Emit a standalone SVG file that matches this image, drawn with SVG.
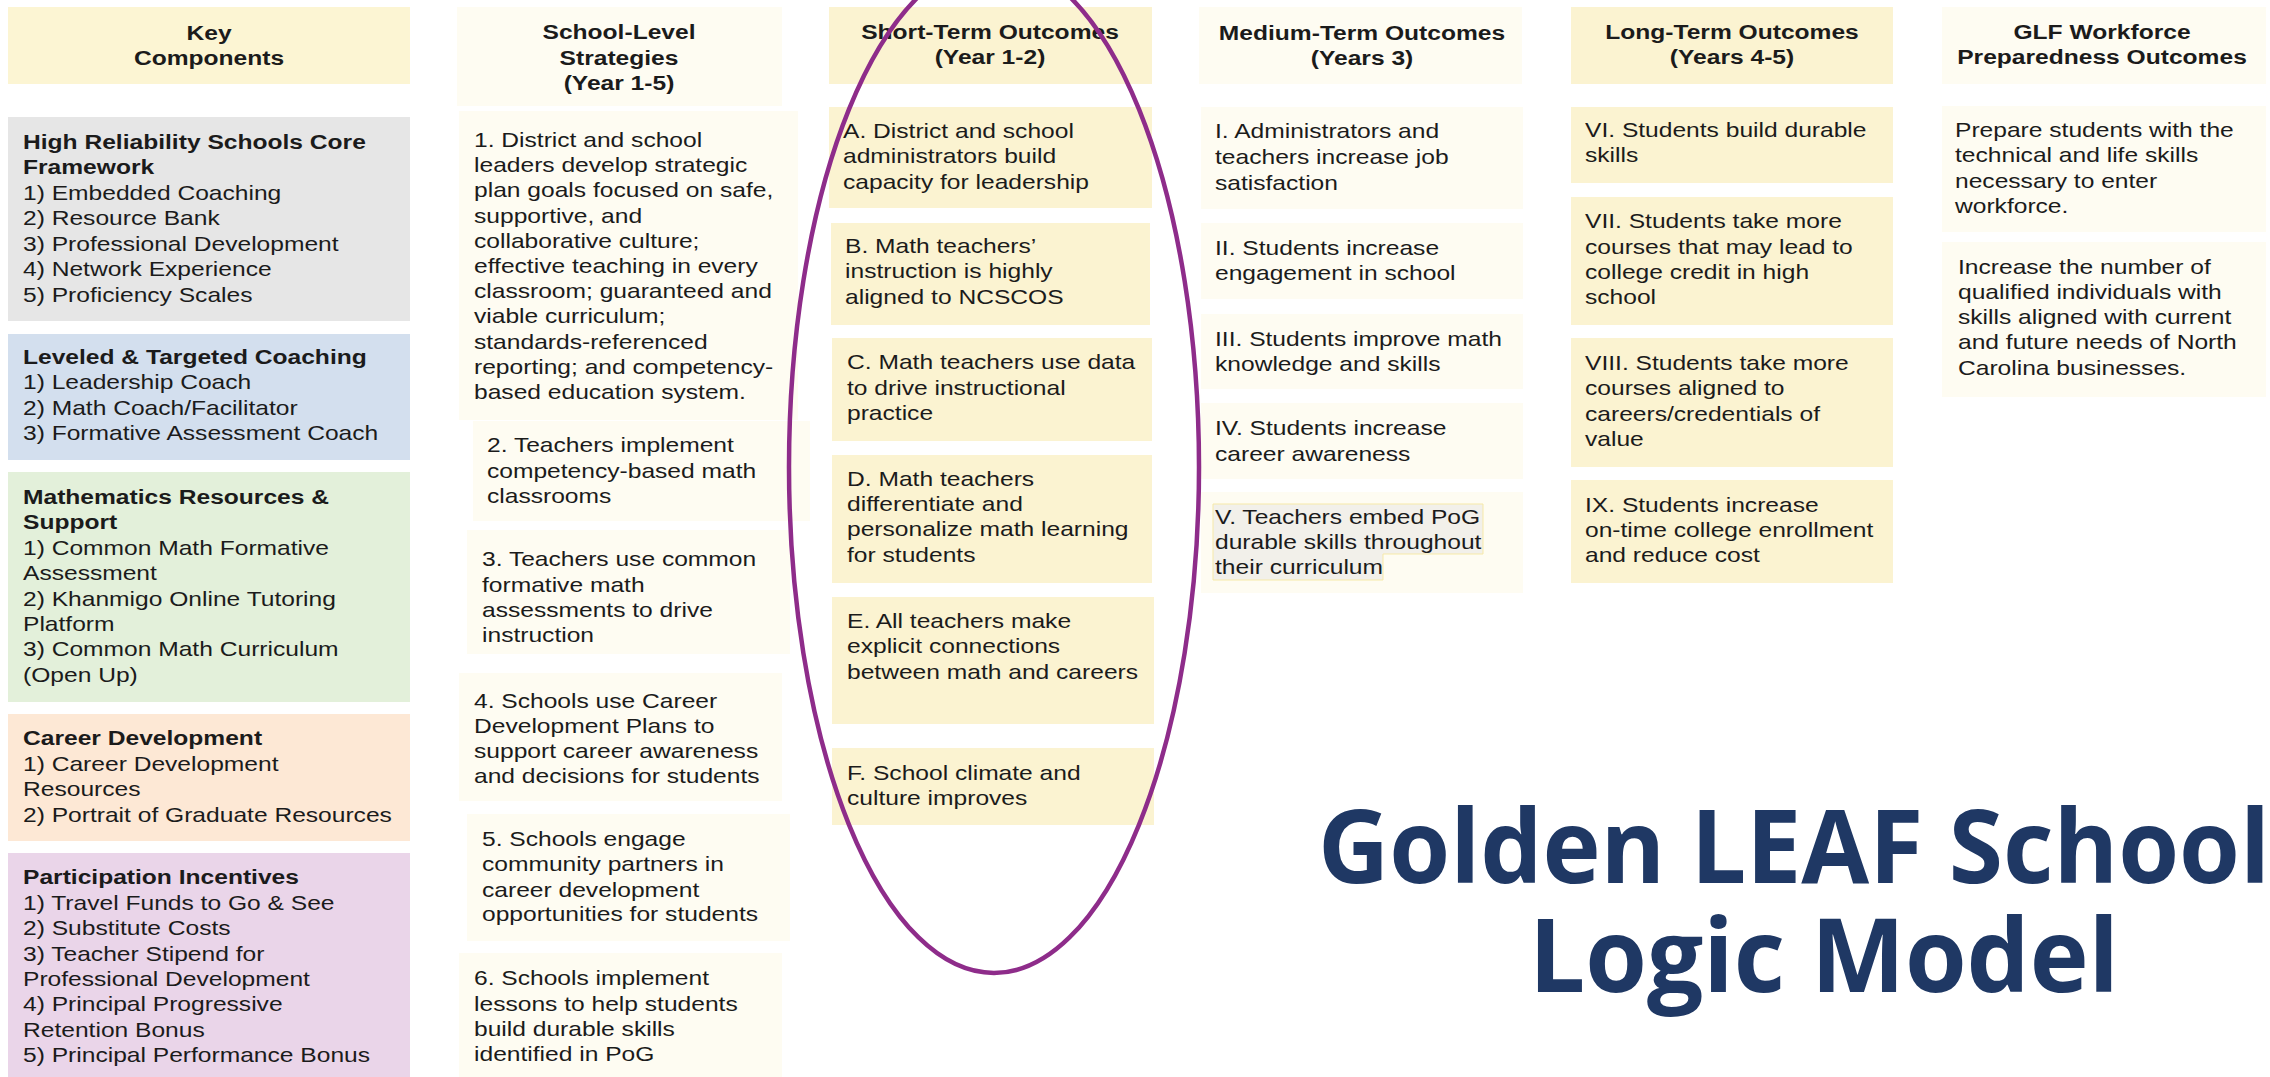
<svg xmlns="http://www.w3.org/2000/svg" width="2270" height="1077" viewBox="0 0 2270 1077">
<style>
.t{font-family:"Liberation Sans",Arial,sans-serif;font-size:20.5px;fill:#1b1b1b}
.b{font-weight:bold}
.h{font-weight:bold;text-anchor:middle}
.ky{fill:#FCF5D3}.gy{fill:#E6E6E6}.bl{fill:#D3DFEE}.gr{fill:#E3F0DA}.pe{fill:#FDE8D5}.pu{fill:#EAD5E9}
.yl{fill:#FBF3D1}.cr{fill:#FEFCF2}
.title{font-family:"Open Sans","Noto Sans",sans-serif;font-weight:bold;font-size:102px;fill:#1F3864}
</style>
<rect width="2270" height="1077" fill="#ffffff"/>

<!-- Column 1: Key Components -->
<g id="key-header"><rect class="ky" x="8" y="7" width="402" height="77"/>
<text class="t h" transform="translate(209 0) scale(1.2 1)"><tspan x="0" y="40">Key</tspan><tspan x="0" y="65">Components</tspan></text></g>
<g id="hrs"><rect class="gy" x="8" y="117" width="402" height="204"/>
<text class="t" transform="translate(23 0) scale(1.2 1)"><tspan class="b" x="0" y="149">High Reliability Schools Core</tspan><tspan class="b" x="0" y="174">Framework</tspan><tspan x="0" y="200">1) Embedded Coaching</tspan><tspan x="0" y="225">2) Resource Bank</tspan><tspan x="0" y="251">3) Professional Development</tspan><tspan x="0" y="276">4) Network Experience</tspan><tspan x="0" y="302">5) Proficiency Scales</tspan></text></g>
<g id="coaching"><rect class="bl" x="8" y="334" width="402" height="126"/>
<text class="t" transform="translate(23 0) scale(1.2 1)"><tspan class="b" x="0" y="364">Leveled &amp; Targeted Coaching</tspan><tspan x="0" y="389">1) Leadership Coach</tspan><tspan x="0" y="415">2) Math Coach/Facilitator</tspan><tspan x="0" y="440">3) Formative Assessment Coach</tspan></text></g>
<g id="math-resources"><rect class="gr" x="8" y="472" width="402" height="230"/>
<text class="t" transform="translate(23 0) scale(1.2 1)"><tspan class="b" x="0" y="504">Mathematics Resources &amp;</tspan><tspan class="b" x="0" y="529">Support</tspan><tspan x="0" y="555">1) Common Math Formative</tspan><tspan x="0" y="580">Assessment</tspan><tspan x="0" y="606">2) Khanmigo Online Tutoring</tspan><tspan x="0" y="631">Platform</tspan><tspan x="0" y="656">3) Common Math Curriculum</tspan><tspan x="0" y="682">(Open Up)</tspan></text></g>
<g id="career-dev"><rect class="pe" x="8" y="714" width="402" height="127"/>
<text class="t" transform="translate(23 0) scale(1.2 1)"><tspan class="b" x="0" y="745">Career Development</tspan><tspan x="0" y="771">1) Career Development</tspan><tspan x="0" y="796">Resources</tspan><tspan x="0" y="822">2) Portrait of Graduate Resources</tspan></text></g>
<g id="incentives"><rect class="pu" x="8" y="853" width="402" height="230"/>
<text class="t" transform="translate(23 0) scale(1.2 1)"><tspan class="b" x="0" y="884">Participation Incentives</tspan><tspan x="0" y="910">1) Travel Funds to Go &amp; See</tspan><tspan x="0" y="935">2) Substitute Costs</tspan><tspan x="0" y="961">3) Teacher Stipend for</tspan><tspan x="0" y="986">Professional Development</tspan><tspan x="0" y="1011">4) Principal Progressive</tspan><tspan x="0" y="1037">Retention Bonus</tspan><tspan x="0" y="1062">5) Principal Performance Bonus</tspan></text></g>

<!-- Column 2: School-Level Strategies -->
<g id="strat-header"><rect class="cr" x="457" y="7" width="325" height="99"/>
<text class="t h" transform="translate(619 0) scale(1.2 1)"><tspan x="0" y="39">School-Level</tspan><tspan x="0" y="65">Strategies</tspan><tspan x="0" y="90">(Year 1-5)</tspan></text></g>
<g id="strat-1"><rect class="cr" x="459" y="111" width="339" height="309"/>
<text class="t" transform="translate(474 0) scale(1.2 1)"><tspan x="0" y="147">1. District and school</tspan><tspan x="0" y="172">leaders develop strategic</tspan><tspan x="0" y="197">plan goals focused on safe,</tspan><tspan x="0" y="223">supportive, and</tspan><tspan x="0" y="248">collaborative culture;</tspan><tspan x="0" y="273">effective teaching in every</tspan><tspan x="0" y="298">classroom; guaranteed and</tspan><tspan x="0" y="323">viable curriculum;</tspan><tspan x="0" y="349">standards-referenced</tspan><tspan x="0" y="374">reporting; and competency-</tspan><tspan x="0" y="399">based education system.</tspan></text></g>
<g id="strat-2"><rect class="cr" x="473" y="421" width="337" height="100"/>
<text class="t" transform="translate(487 0) scale(1.2 1)"><tspan x="0" y="452">2. Teachers implement</tspan><tspan x="0" y="478">competency-based math</tspan><tspan x="0" y="503">classrooms</tspan></text></g>
<g id="strat-3"><rect class="cr" x="467" y="530" width="323" height="124"/>
<text class="t" transform="translate(482 0) scale(1.2 1)"><tspan x="0" y="566">3. Teachers use common</tspan><tspan x="0" y="592">formative math</tspan><tspan x="0" y="617">assessments to drive</tspan><tspan x="0" y="642">instruction</tspan></text></g>
<g id="strat-4"><rect class="cr" x="459" y="673" width="323" height="128"/>
<text class="t" transform="translate(474 0) scale(1.2 1)"><tspan x="0" y="708">4. Schools use Career</tspan><tspan x="0" y="733">Development Plans to</tspan><tspan x="0" y="758">support career awareness</tspan><tspan x="0" y="783">and decisions for students</tspan></text></g>
<g id="strat-5"><rect class="cr" x="467" y="814" width="323" height="127"/>
<text class="t" transform="translate(482 0) scale(1.2 1)"><tspan x="0" y="846">5. Schools engage</tspan><tspan x="0" y="871">community partners in</tspan><tspan x="0" y="897">career development</tspan><tspan x="0" y="921">opportunities for students</tspan></text></g>
<g id="strat-6"><rect class="cr" x="459" y="953" width="323" height="130"/>
<text class="t" transform="translate(474 0) scale(1.2 1)"><tspan x="0" y="985">6. Schools implement</tspan><tspan x="0" y="1011">lessons to help students</tspan><tspan x="0" y="1036">build durable skills</tspan><tspan x="0" y="1061">identified in PoG</tspan></text></g>

<!-- Column 3: Short-Term Outcomes -->
<g id="short-header"><rect class="yl" x="829" y="7" width="323" height="77"/>
<text class="t h" transform="translate(990 0) scale(1.2 1)"><tspan x="0" y="39">Short-Term Outcomes</tspan><tspan x="0" y="64">(Year 1-2)</tspan></text></g>
<g id="short-a"><rect class="yl" x="829" y="107" width="323" height="101"/>
<text class="t" transform="translate(843 0) scale(1.2 1)"><tspan x="0" y="138">A. District and school</tspan><tspan x="0" y="163">administrators build</tspan><tspan x="0" y="189">capacity for leadership</tspan></text></g>
<g id="short-b"><rect class="yl" x="831" y="223" width="319" height="102"/>
<text class="t" transform="translate(845 0) scale(1.2 1)"><tspan x="0" y="253">B. Math teachers’</tspan><tspan x="0" y="278">instruction is highly</tspan><tspan x="0" y="304">aligned to NCSCOS</tspan></text></g>
<g id="short-c"><rect class="yl" x="832" y="338" width="320" height="103"/>
<text class="t" transform="translate(847 0) scale(1.2 1)"><tspan x="0" y="369">C. Math teachers use data</tspan><tspan x="0" y="395">to drive instructional</tspan><tspan x="0" y="420">practice</tspan></text></g>
<g id="short-d"><rect class="yl" x="832" y="455" width="320" height="128"/>
<text class="t" transform="translate(847 0) scale(1.2 1)"><tspan x="0" y="486">D. Math teachers</tspan><tspan x="0" y="511">differentiate and</tspan><tspan x="0" y="536">personalize math learning</tspan><tspan x="0" y="562">for students</tspan></text></g>
<g id="short-e"><rect class="yl" x="832" y="597" width="322" height="127"/>
<text class="t" transform="translate(847 0) scale(1.2 1)"><tspan x="0" y="628">E. All teachers make</tspan><tspan x="0" y="653">explicit connections</tspan><tspan x="0" y="679">between math and careers</tspan></text></g>
<g id="short-f"><rect class="yl" x="832" y="748" width="322" height="77"/>
<text class="t" transform="translate(847 0) scale(1.2 1)"><tspan x="0" y="780">F. School climate and</tspan><tspan x="0" y="805">culture improves</tspan></text></g>

<!-- Column 4: Medium-Term Outcomes -->
<g id="medium-header"><rect class="cr" x="1199" y="7" width="323" height="77"/>
<text class="t h" transform="translate(1362 0) scale(1.2 1)"><tspan x="0" y="40">Medium-Term Outcomes</tspan><tspan x="0" y="65">(Years 3)</tspan></text></g>
<g id="medium-i"><rect class="cr" x="1201" y="107" width="322" height="102"/>
<text class="t" transform="translate(1215 0) scale(1.2 1)"><tspan x="0" y="138">I. Administrators and</tspan><tspan x="0" y="164">teachers increase job</tspan><tspan x="0" y="190">satisfaction</tspan></text></g>
<g id="medium-ii"><rect class="cr" x="1201" y="223" width="322" height="76"/>
<text class="t" transform="translate(1215 0) scale(1.2 1)"><tspan x="0" y="255">II. Students increase</tspan><tspan x="0" y="280">engagement in school</tspan></text></g>
<g id="medium-iii"><rect class="cr" x="1201" y="314" width="322" height="75"/>
<text class="t" transform="translate(1215 0) scale(1.2 1)"><tspan x="0" y="346">III. Students improve math</tspan><tspan x="0" y="371">knowledge and skills</tspan></text></g>
<g id="medium-iv"><rect class="cr" x="1201" y="403" width="322" height="76"/>
<text class="t" transform="translate(1215 0) scale(1.2 1)"><tspan x="0" y="435">IV. Students increase</tspan><tspan x="0" y="461">career awareness</tspan></text></g>
<g id="medium-v"><rect class="cr" x="1201" y="492" width="322" height="101"/>
<path d="M1213 504H1483V554H1383V580H1213Z" fill="#F2F0EA" stroke="#F6E9A8" stroke-width="1"/>
<text class="t" transform="translate(1215 0) scale(1.2 1)"><tspan x="0" y="524">V. Teachers embed PoG</tspan><tspan x="0" y="549">durable skills throughout</tspan><tspan x="0" y="574">their curriculum</tspan></text></g>

<!-- Column 5: Long-Term Outcomes -->
<g id="long-header"><rect class="yl" x="1571" y="7" width="322" height="77"/>
<text class="t h" transform="translate(1732 0) scale(1.2 1)"><tspan x="0" y="39">Long-Term Outcomes</tspan><tspan x="0" y="64">(Years 4-5)</tspan></text></g>
<g id="long-vi"><rect class="yl" x="1571" y="107" width="322" height="76"/>
<text class="t" transform="translate(1585 0) scale(1.2 1)"><tspan x="0" y="137">VI. Students build durable</tspan><tspan x="0" y="162">skills</tspan></text></g>
<g id="long-vii"><rect class="yl" x="1571" y="197" width="322" height="128"/>
<text class="t" transform="translate(1585 0) scale(1.2 1)"><tspan x="0" y="228">VII. Students take more</tspan><tspan x="0" y="254">courses that may lead to</tspan><tspan x="0" y="279">college credit in high</tspan><tspan x="0" y="304">school</tspan></text></g>
<g id="long-viii"><rect class="yl" x="1571" y="338" width="322" height="129"/>
<text class="t" transform="translate(1585 0) scale(1.2 1)"><tspan x="0" y="370">VIII. Students take more</tspan><tspan x="0" y="395">courses aligned to</tspan><tspan x="0" y="421">careers/credentials of</tspan><tspan x="0" y="446">value</tspan></text></g>
<g id="long-ix"><rect class="yl" x="1571" y="480" width="322" height="103"/>
<text class="t" transform="translate(1585 0) scale(1.2 1)"><tspan x="0" y="512">IX. Students increase</tspan><tspan x="0" y="537">on-time college enrollment</tspan><tspan x="0" y="562">and reduce cost</tspan></text></g>

<!-- Column 6: GLF Workforce Preparedness Outcomes -->
<g id="glf-header"><rect class="cr" x="1942" y="7" width="324" height="77"/>
<text class="t h" transform="translate(2102 0) scale(1.2 1)"><tspan x="0" y="39">GLF Workforce</tspan><tspan x="0" y="64">Preparedness Outcomes</tspan></text></g>
<g id="glf-1"><rect class="cr" x="1942" y="106" width="324" height="126"/>
<text class="t" transform="translate(1955 0) scale(1.2 1)"><tspan x="0" y="137">Prepare students with the</tspan><tspan x="0" y="162">technical and life skills</tspan><tspan x="0" y="188">necessary to enter</tspan><tspan x="0" y="213">workforce.</tspan></text></g>
<g id="glf-2"><rect class="cr" x="1942" y="242" width="324" height="155"/>
<text class="t" transform="translate(1958 0) scale(1.2 1)"><tspan x="0" y="274">Increase the number of</tspan><tspan x="0" y="299">qualified individuals with</tspan><tspan x="0" y="324">skills aligned with current</tspan><tspan x="0" y="349">and future needs of North</tspan><tspan x="0" y="375">Carolina businesses.</tspan></text></g>

<!-- Annotation / connectors -->
<g id="connectors">
<ellipse cx="994" cy="467" rx="205" ry="506" fill="none" stroke="#8E2C8A" stroke-width="4.5"/>
</g>

<g id="title">
<text class="title" x="1318" y="883" textLength="952" lengthAdjust="spacingAndGlyphs">Golden LEAF School</text>
<text class="title" x="1529" y="992" textLength="590" lengthAdjust="spacingAndGlyphs">Logic Model</text>
</g>
</svg>
